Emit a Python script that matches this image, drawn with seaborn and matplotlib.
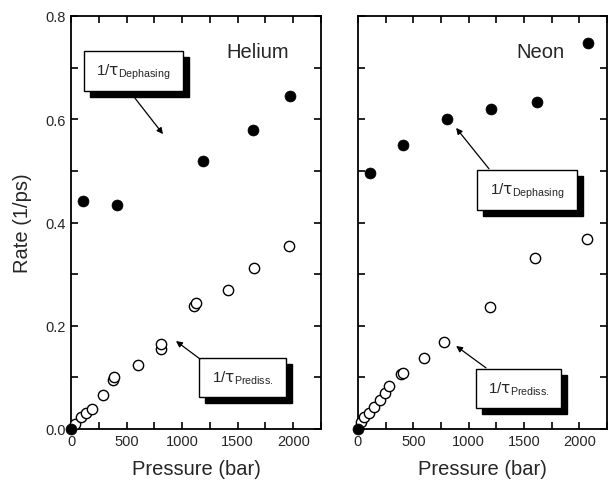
import matplotlib
matplotlib.use("Agg")
import matplotlib.pyplot as plt
import seaborn as sns
import pandas as pd
from matplotlib.patches import Rectangle
import matplotlib.transforms as mtransforms

# ---- data ----
he_deph_p = [0, 110, 410, 1190, 1640, 1975]
he_deph_r = [0.0, 0.441, 0.434, 0.520, 0.580, 0.645]
he_pred_p = [36, 87, 135, 186, 285, 380, 386, 605, 808, 808, 1108, 1122, 1413, 1643, 1966]
he_pred_r = [0.010, 0.023, 0.031, 0.039, 0.066, 0.095, 0.100, 0.124, 0.155, 0.165,
             0.238, 0.244, 0.269, 0.311, 0.355]

ne_deph_p = [0, 107, 405, 800, 1200, 1620, 2080]
ne_deph_r = [0.0, 0.496, 0.551, 0.600, 0.620, 0.633, 0.748]
ne_pred_p = [27, 57, 96, 146, 196, 241, 280, 391, 405, 598, 777, 1196, 1595, 2065]
ne_pred_r = [0.014, 0.023, 0.031, 0.042, 0.057, 0.070, 0.083, 0.106, 0.108, 0.137,
             0.168, 0.236, 0.331, 0.369]

x_ticks = [0, 500, 1000, 1500, 2000]
y_ticks = [0.0, 0.2, 0.4, 0.6, 0.8]
y_tick_labels = ["0.0", "0.2", "0.4", "0.6", "0.8"]
panel_titles = ["Helium", "Neon"]
deph_label = r"1/$\mathsf{\tau}_{\mathrm{Dephasing}}$"
pred_label = r"1/$\mathsf{\tau}_{\mathrm{Prediss.}}$"

sns.set_style("ticks")
plt.rcParams["font.family"] = ["Liberation Sans", "DejaVu Sans"]
plt.rcParams["mathtext.fontset"] = "custom"
plt.rcParams["mathtext.rm"] = "Liberation Sans"
plt.rcParams["mathtext.it"] = "Liberation Sans"
plt.rcParams["mathtext.sf"] = "DejaVu Sans"

W, H = 608, 485
fig = plt.figure(figsize=(W / 100, H / 100), dpi=100)

def px_axes(x0, x1, ytop, ybot):
    return fig.add_axes([x0 / W, (H - ybot) / H, (x1 - x0) / W, (ybot - ytop) / H])

ax1 = px_axes(71, 321, 17, 430)
ax2 = px_axes(358, 607, 17, 430)

def draw_panel(ax, dp, dr, pp, pr):
    dfd = pd.DataFrame({"p": dp, "r": dr})
    dfp = pd.DataFrame({"p": pp, "r": pr})
    sns.scatterplot(data=dfp, x="p", y="r", ax=ax, s=55, facecolor="white",
                    edgecolor="black", linewidth=1.0, clip_on=False, zorder=3)
    sns.scatterplot(data=dfd, x="p", y="r", ax=ax, s=62, color="black",
                    edgecolor="black", linewidth=0.5, clip_on=False, zorder=4)
    ax.set_xlim(0, 2250)
    ax.set_ylim(0, 0.8)
    ax.set_xticks(x_ticks)
    ax.set_xticks([250, 750, 1250, 1750, 2250], minor=True)
    ax.set_yticks(y_ticks)
    ax.set_yticks([0.1, 0.3, 0.5, 0.7], minor=True)
    ax.tick_params(which="both", direction="in", top=True, right=True,
                   length=5, width=1.2, labelsize=10.5, color="black")
    for s in ax.spines.values():
        s.set_linewidth(1.3)
        s.set_color("black")
    ax.set_xlabel("Pressure (bar)", fontsize=14.5, labelpad=8)

def box(ax, x0, x1, y0, y1, text):
    off = mtransforms.offset_copy(ax.transAxes, fig=fig, x=6, y=-6, units="dots")
    ax.add_patch(Rectangle((x0, y0), x1 - x0, y1 - y0, transform=off,
                           facecolor="black", edgecolor="black", zorder=5, clip_on=False))
    ax.add_patch(Rectangle((x0, y0), x1 - x0, y1 - y0, transform=ax.transAxes,
                           facecolor="white", edgecolor="black", lw=1.0, zorder=6, clip_on=False))
    ax.text((x0 + x1) / 2, (y0 + y1) / 2, text, transform=ax.transAxes,
            ha="center", va="center", fontsize=11, zorder=7)

def arrow(ax, start, end):
    ax.annotate("", xy=end, xytext=start, xycoords="axes fraction",
                textcoords="axes fraction",
                arrowprops=dict(arrowstyle="-|>", color="black", lw=0.9,
                                mutation_scale=9, shrinkA=0, shrinkB=0), zorder=6)

draw_panel(ax1, he_deph_p, he_deph_r, he_pred_p, he_pred_r)
draw_panel(ax2, ne_deph_p, ne_deph_r, ne_pred_p, ne_pred_r)

ax1.set_yticklabels(y_tick_labels)
ax1.set_ylabel("Rate (1/ps)", fontsize=14.5, labelpad=10)
ax2.set_yticklabels([])
ax2.set_ylabel("")

ax1.text(0.748, 0.915, panel_titles[0], transform=ax1.transAxes, ha="center",
         va="center", fontsize=14.5)
ax2.text(0.731, 0.915, panel_titles[1], transform=ax2.transAxes, ha="center",
         va="center", fontsize=14.5)

box(ax1, 0.052, 0.448, 0.818, 0.915, deph_label)
arrow(ax1, (0.256, 0.801), (0.368, 0.714))
box(ax1, 0.512, 0.86, 0.0775, 0.172, pred_label)
arrow(ax1, (0.516, 0.1695), (0.42, 0.213))

box(ax2, 0.478, 0.88, 0.530, 0.627, deph_label)
arrow(ax2, (0.526, 0.630), (0.394, 0.729))
box(ax2, 0.474, 0.815, 0.051, 0.145, pred_label)
arrow(ax2, (0.514, 0.148), (0.394, 0.201))

fig.savefig("out.png", dpi=100)
